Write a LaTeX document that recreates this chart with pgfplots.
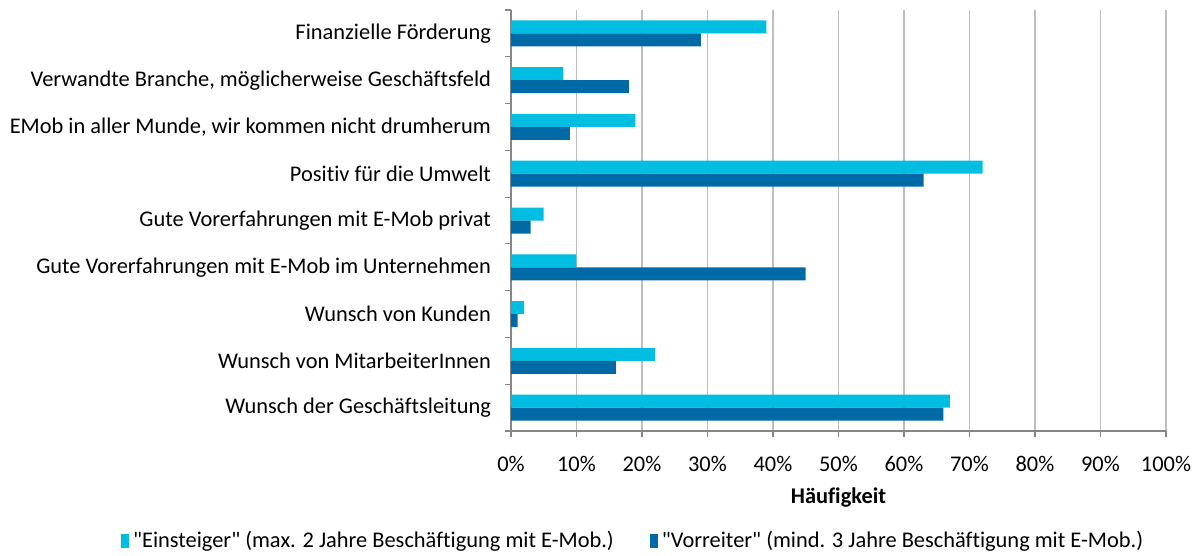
\documentclass[border=0pt]{standalone}
\usepackage{pgfplots}
\pgfplotsset{compat=1.18}
\usepackage{fontspec}
\setmainfont{Carlito}[Ligatures={NoCommon}]
\definecolor{ein}{RGB}{0,190,226}
\definecolor{vor}{RGB}{0,106,166}
\definecolor{axgray}{RGB}{134,134,134}
\definecolor{gridgray}{RGB}{190,190,190}
\begin{document}
\begin{tikzpicture}
\useasboundingbox (-255.5pt,-62.5pt) rectangle (345pt,215.5pt);
\begin{axis}[
  scale only axis,
  width=327.5pt, height=210.5pt,
  xbar, bar width=6.5pt,
  xmin=0, xmax=100,
  ymin=-0.5, ymax=8.5,
  y dir=reverse,
  axis x line*=bottom, axis y line*=left,
  axis line style={axgray, line width=0.6pt},
  xtick={0,10,...,100},
  xticklabels={0\%,10\%,20\%,30\%,40\%,50\%,60\%,70\%,80\%,90\%,100\%},
  ytick={0,...,8},
  yticklabels={Finanzielle Förderung,{Verwandte Branche, möglicherweise Geschäftsfeld},{EMob in aller Munde, wir kommen nicht drumherum},Positiv für die Umwelt,Gute Vorerfahrungen mit E-Mob privat,Gute Vorerfahrungen mit E-Mob im Unternehmen,Wunsch von Kunden,Wunsch von MitarbeiterInnen,Wunsch der Geschäftsleitung},
  minor ytick={-0.5,0.5,...,8.5},
  major y tick style={draw=none},
  minor y tick style={axgray, line width=0.6pt},
  minor tick length=3pt,
  major tick length=3pt,
  x tick style={axgray, line width=0.6pt},
  tick align=outside,
  xmajorgrids,
  grid style={gridgray, line width=0.9pt},
  ymajorgrids=false,
  tick label style={font=\fontsize{11.2}{13}\selectfont, black},
  yticklabel style={xshift=-3.5pt},
  xticklabel style={yshift=-6pt},
  xlabel={\textbf{Häufigkeit}},
  xlabel style={font=\fontsize{11.2}{13}\selectfont, yshift=-1pt},
  legend style={at={(0.188,-0.261)}, anchor=center, draw=none, fill=none,
    legend columns=2, font=\fontsize{11.2}{13}\selectfont,
    /tikz/every even column/.append style={column sep=16pt}},
  legend image code/.code={\fill[#1] (0pt,-3.5pt) rectangle (4pt,3.5pt);},
]
\addplot[fill=ein, draw=none, bar shift=3.25pt] coordinates {
(39,0) (8,1) (19,2) (72,3) (5,4) (10,5) (2,6) (22,7) (67,8)};
\addplot[fill=vor, draw=none, bar shift=-3.25pt] coordinates {
(29,0) (18,1) (9,2) (63,3) (3,4) (45,5) (1,6) (16,7) (66,8)};
\legend{\textquotedbl Einsteiger\textquotedbl{} (max. 2 Jahre Beschäftigung mit E-Mob.),\textquotedbl Vorreiter\textquotedbl{} (mind. 3 Jahre Beschäftigung mit E-Mob.)}
\end{axis}
\end{tikzpicture}
\end{document}
